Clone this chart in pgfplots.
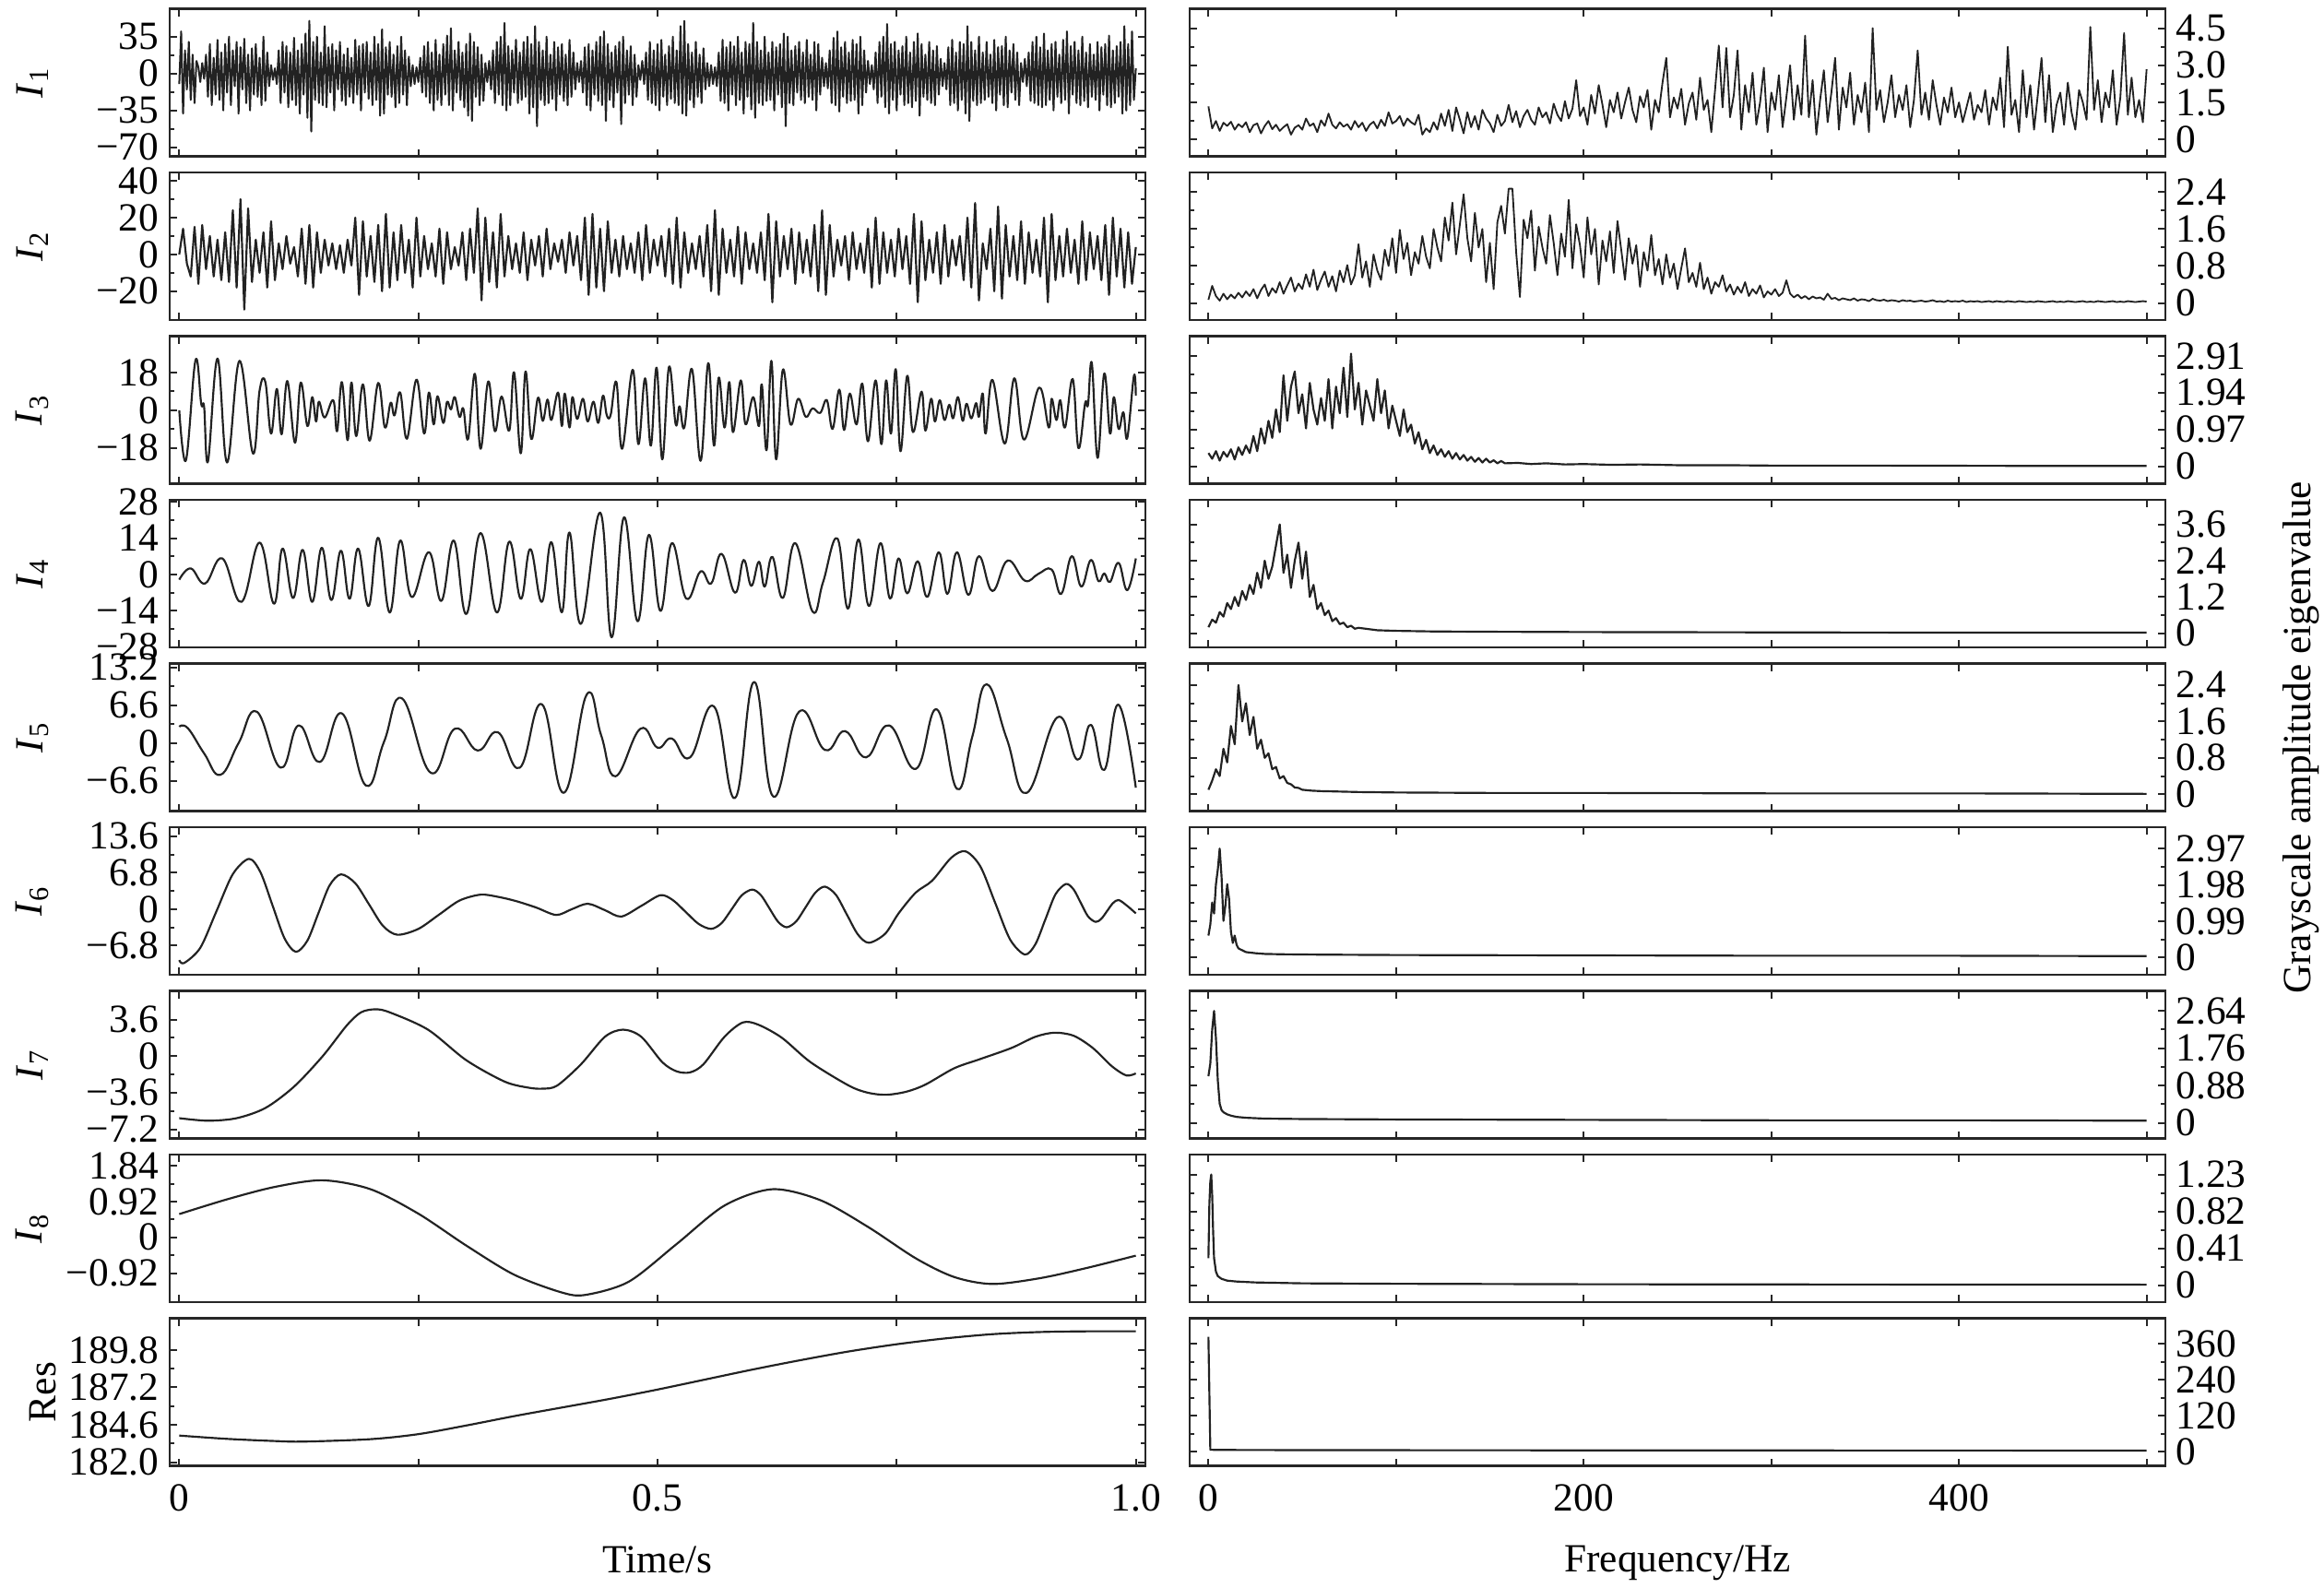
\documentclass[border=0pt]{standalone}
\usepackage{fontspec}
\setmainfont{Liberation Serif}
\usepackage{pgfplots}
\pgfplotsset{compat=1.18}
\definecolor{ln}{HTML}{222222}
\pgfplotsset{
  dl/.style={color=ln, line width=0.65pt, line join=round, mark=none},
  panel/.style={
    scale only axis, width=317.4pt, height=48pt,
    axis line style={line width=0.8pt, color=black!85},
    tick style={line width=0.6pt, color=black!85},
    major tick length=2.4pt, minor tick length=1.4pt,
    minor y tick num=1, tick align=inside,
    tick label style={font=\fontsize{13}{15}\selectfont},
    label style={font=\fontsize{13}{15}\selectfont},
  },
  lp/.style={panel, anchor=south west, xmin=-0.01, xmax=1.01, xtick={0,0.25,0.5,0.75,1}, xticklabels={},
     ylabel style={at={(axis description cs:-0.1408,0.5)}, anchor=center}},
  rp/.style={panel, anchor=south west, xmin=-10, xmax=510, xtick={0,100,200,300,400,500}, xticklabels={}, yticklabel pos=right},
}
\begin{document}
\begin{tikzpicture}
\useasboundingbox (0,0) rectangle (756pt,-516.6pt);
% ---------------- I1
\begin{axis}[lp, at={(55.2pt,-50.88pt)}, ymin=-78.6, ymax=61.4, ytick={-70,-35,0,35}, yticklabels={−70,−35,0,35}, ylabel={\textit{I}\textsubscript{1}}]
\addplot[dl, line width=0.6pt] coordinates {
(0,-10)(0.002,40)(0.004,-38)(0.006,22)(0.008,-15)(0.01,30)(0.012,-25)(0.014,18)(0.016,-28)(0.018,12)
(0.02,6)(0.022,-8)(0.024,10)(0.026,-5)(0.028,18)(0.03,-22)(0.032,28)(0.034,-30)(0.036,15)(0.038,-20)
(0.04,32)(0.042,-25)(0.044,20)(0.046,-35)(0.048,28)(0.05,-18)(0.052,35)(0.054,-30)(0.056,22)(0.058,-12)
(0.06,30)(0.062,-38)(0.064,25)(0.066,-15)(0.068,33)(0.07,-28)(0.072,18)(0.074,-35)(0.076,24)(0.078,-20)
(0.08,28)(0.082,-22)(0.084,15)(0.086,-30)(0.088,35)(0.09,-26)(0.092,20)(0.094,-12)(0.096,8)(0.098,-6)
(0.1,5)(0.102,-10)(0.104,22)(0.106,-28)(0.108,30)(0.11,-18)(0.112,26)(0.114,-32)(0.116,20)(0.118,-25)
(0.12,34)(0.122,-30)(0.124,22)(0.126,-38)(0.128,28)(0.13,-20)(0.132,38)(0.134,-42)(0.136,50)(0.138,-55)
(0.14,30)(0.142,-25)(0.144,35)(0.146,-28)(0.148,20)(0.15,-30)(0.152,45)(0.154,-32)(0.156,25)(0.158,-18)
(0.16,28)(0.162,-35)(0.164,22)(0.166,-15)(0.168,30)(0.17,-26)(0.172,18)(0.174,-30)(0.176,24)(0.178,-22)
(0.18,15)(0.182,-28)(0.184,32)(0.186,-20)(0.188,26)(0.19,-35)(0.192,28)(0.194,-18)(0.196,30)(0.198,-24)
(0.2,20)(0.202,-30)(0.204,35)(0.206,-25)(0.208,28)(0.21,-40)(0.212,42)(0.214,-38)(0.216,25)(0.218,-20)
(0.22,30)(0.222,-22)(0.224,18)(0.226,-32)(0.228,26)(0.23,-28)(0.232,35)(0.234,-20)(0.236,22)(0.238,-30)
(0.24,16)(0.242,-12)(0.244,8)(0.246,-10)(0.248,6)(0.25,-8)(0.252,15)(0.254,-18)(0.256,26)(0.258,-22)
(0.26,30)(0.262,-28)(0.264,20)(0.266,-35)(0.268,32)(0.27,-25)(0.272,18)(0.274,-30)(0.276,28)(0.278,-20)
(0.28,36)(0.282,-30)(0.284,43)(0.286,-35)(0.288,22)(0.29,-18)(0.292,30)(0.294,-25)(0.296,20)(0.298,-32)
(0.3,28)(0.302,-40)(0.304,38)(0.306,-45)(0.308,30)(0.31,-22)(0.312,25)(0.314,-30)(0.316,18)(0.318,-26)
(0.32,10)(0.322,-8)(0.324,12)(0.326,-15)(0.328,22)(0.33,-28)(0.332,30)(0.334,-20)(0.336,35)(0.338,-30)
(0.34,48)(0.342,-35)(0.344,26)(0.346,-30)(0.348,22)(0.35,-18)(0.352,32)(0.354,-28)(0.356,20)(0.358,-25)
(0.36,30)(0.362,-22)(0.364,35)(0.366,-38)(0.368,28)(0.37,-32)(0.372,45)(0.374,-50)(0.376,30)(0.378,-25)
(0.38,22)(0.382,-30)(0.384,35)(0.386,-28)(0.388,18)(0.39,-24)(0.392,30)(0.394,-35)(0.396,25)(0.398,-20)
(0.4,28)(0.402,-26)(0.404,18)(0.406,-30)(0.408,32)(0.41,-22)(0.412,20)(0.414,-15)(0.416,10)(0.418,-8)
(0.42,12)(0.422,-18)(0.424,25)(0.426,-30)(0.428,28)(0.43,-35)(0.432,22)(0.434,-20)(0.436,30)(0.438,-26)
(0.44,35)(0.442,-30)(0.444,40)(0.446,-45)(0.448,28)(0.45,-25)(0.452,20)(0.454,-32)(0.456,26)(0.458,-18)
(0.46,30)(0.462,-48)(0.464,35)(0.466,-28)(0.468,22)(0.47,-20)(0.472,26)(0.474,-30)(0.476,18)(0.478,-22)
(0.48,8)(0.482,-6)(0.484,12)(0.486,-10)(0.488,20)(0.49,-25)(0.492,30)(0.494,-28)(0.496,22)(0.498,-30)
(0.5,28)(0.502,-35)(0.504,32)(0.506,-22)(0.508,18)(0.51,-30)(0.512,26)(0.514,-24)(0.516,35)(0.518,-28)
(0.52,22)(0.522,-30)(0.524,45)(0.526,-38)(0.528,50)(0.53,-40)(0.532,28)(0.534,-25)(0.536,20)(0.538,-32)
(0.54,30)(0.542,-22)(0.544,18)(0.546,-28)(0.548,24)(0.55,-15)(0.552,10)(0.554,-12)(0.556,8)(0.558,-10)
(0.56,6)(0.562,-12)(0.564,20)(0.566,-26)(0.568,32)(0.57,-28)(0.572,25)(0.574,-35)(0.576,30)(0.578,-20)
(0.58,26)(0.582,-30)(0.584,35)(0.586,-25)(0.588,20)(0.59,-38)(0.592,30)(0.594,-22)(0.596,28)(0.598,-34)
(0.6,48)(0.602,-42)(0.604,30)(0.606,-28)(0.608,22)(0.61,-30)(0.612,35)(0.614,-26)(0.616,20)(0.618,-25)
(0.62,30)(0.622,-35)(0.624,25)(0.626,-20)(0.628,28)(0.63,-32)(0.632,38)(0.634,-50)(0.636,35)(0.638,-28)
(0.64,22)(0.642,-30)(0.644,26)(0.646,-18)(0.648,30)(0.65,-25)(0.652,20)(0.654,-28)(0.656,32)(0.658,-22)
(0.66,18)(0.662,-25)(0.664,30)(0.666,-35)(0.668,28)(0.67,-20)(0.672,15)(0.674,-12)(0.676,10)(0.678,-14)
(0.68,22)(0.682,-28)(0.684,34)(0.686,-30)(0.688,40)(0.69,-36)(0.692,25)(0.694,-22)(0.696,30)(0.698,-28)
(0.7,20)(0.702,-26)(0.704,32)(0.706,-25)(0.708,28)(0.71,-38)(0.712,35)(0.714,-30)(0.716,22)(0.718,-18)
(0.72,12)(0.722,-10)(0.724,8)(0.726,-15)(0.728,20)(0.73,-28)(0.732,30)(0.734,-22)(0.736,35)(0.738,-32)
(0.74,47)(0.742,-38)(0.744,28)(0.746,-25)(0.748,30)(0.75,-35)(0.752,22)(0.754,-20)(0.756,26)(0.758,-30)
(0.76,35)(0.762,-28)(0.764,20)(0.766,-32)(0.768,30)(0.77,-26)(0.772,38)(0.774,-40)(0.776,28)(0.778,-22)
(0.78,18)(0.782,-25)(0.784,30)(0.786,-28)(0.788,22)(0.79,-30)(0.792,26)(0.794,-20)(0.796,14)(0.798,-12)
(0.8,10)(0.802,-15)(0.804,25)(0.806,-30)(0.808,32)(0.81,-28)(0.812,20)(0.814,-35)(0.816,30)(0.818,-25)
(0.82,28)(0.822,-38)(0.824,45)(0.826,-45)(0.828,30)(0.83,-26)(0.832,22)(0.834,-30)(0.836,35)(0.838,-28)
(0.84,20)(0.842,-25)(0.844,30)(0.846,-22)(0.848,18)(0.85,-28)(0.852,32)(0.854,-35)(0.856,25)(0.858,-20)
(0.86,26)(0.862,-30)(0.864,35)(0.866,-32)(0.868,22)(0.87,-18)(0.872,28)(0.874,-25)(0.876,20)(0.878,-30)
(0.88,10)(0.882,-8)(0.884,14)(0.886,-12)(0.888,20)(0.89,-26)(0.892,30)(0.894,-28)(0.896,35)(0.898,-30)
(0.9,25)(0.902,-32)(0.904,38)(0.906,-30)(0.908,22)(0.91,-25)(0.912,28)(0.914,-35)(0.916,30)(0.918,-22)
(0.92,18)(0.922,-28)(0.924,32)(0.926,-25)(0.928,40)(0.93,-38)(0.932,26)(0.934,-20)(0.936,30)(0.938,-28)
(0.94,22)(0.942,-30)(0.944,35)(0.946,-26)(0.948,20)(0.95,-32)(0.952,28)(0.954,-22)(0.956,18)(0.958,-25)
(0.96,30)(0.962,-35)(0.964,25)(0.966,-20)(0.968,28)(0.97,-30)(0.972,36)(0.974,-32)(0.976,22)(0.978,-28)
(0.98,26)(0.982,-22)(0.984,30)(0.986,-38)(0.988,45)(0.99,-35)(0.992,28)(0.994,-30)(0.996,40)(0.998,-25)
(1,5)};
\end{axis}
% ---------------- I2
\begin{axis}[lp, at={(55.2pt,-104.13pt)}, ymin=-35.7, ymax=44.5, ytick={-20,0,20,40}, yticklabels={−20,0,20,40}, ylabel={\textit{I}\textsubscript{2}}]
\addplot[dl] coordinates {
(0,0)(0.004,14)(0.008,-5)(0.012,-12)(0.016,15)(0.02,-16)(0.024,16)(0.028,-8)(0.032,10)(0.036,-12)
(0.04,8)(0.044,-14)(0.048,12)(0.052,-15)(0.056,24)(0.06,-18)(0.064,30)(0.068,-30)(0.072,25)(0.076,-15)
(0.08,8)(0.084,-10)(0.088,12)(0.092,-18)(0.096,18)(0.1,-14)(0.104,6)(0.108,-8)(0.112,10)(0.116,-5)
(0.12,4)(0.124,-12)(0.128,14)(0.132,-16)(0.136,16)(0.14,-18)(0.144,12)(0.148,-10)(0.152,8)(0.156,-6)
(0.16,6)(0.164,-8)(0.168,5)(0.172,-10)(0.176,8)(0.18,-6)(0.184,20)(0.188,-22)(0.192,18)(0.196,-12)
(0.2,10)(0.204,-15)(0.208,16)(0.212,-20)(0.216,22)(0.22,-18)(0.224,12)(0.228,-14)(0.232,16)(0.236,-10)
(0.24,8)(0.244,-18)(0.248,20)(0.252,-12)(0.256,10)(0.26,-8)(0.264,6)(0.268,-12)(0.272,14)(0.276,-16)
(0.28,12)(0.284,-8)(0.288,4)(0.292,-6)(0.296,12)(0.3,-14)(0.304,14)(0.308,-10)(0.312,25)(0.316,-25)
(0.32,20)(0.324,-15)(0.328,12)(0.332,-18)(0.336,22)(0.34,-12)(0.344,10)(0.348,-8)(0.352,6)(0.356,-10)
(0.36,12)(0.364,-14)(0.368,8)(0.372,-6)(0.376,10)(0.38,-12)(0.384,14)(0.388,-8)(0.392,6)(0.396,-4)
(0.4,8)(0.404,-10)(0.408,12)(0.412,-6)(0.416,10)(0.42,-14)(0.424,20)(0.428,-22)(0.432,22)(0.436,-18)
(0.44,14)(0.444,-20)(0.448,18)(0.452,-10)(0.456,8)(0.46,-12)(0.464,10)(0.468,-8)(0.472,6)(0.476,-10)
(0.48,12)(0.484,-14)(0.488,16)(0.492,-10)(0.496,8)(0.5,-6)(0.504,10)(0.508,-12)(0.512,14)(0.516,-16)
(0.52,20)(0.524,-18)(0.528,12)(0.532,-10)(0.536,6)(0.54,-8)(0.544,10)(0.548,-12)(0.552,16)(0.556,-20)
(0.56,24)(0.564,-22)(0.568,14)(0.572,-10)(0.576,8)(0.58,-12)(0.584,15)(0.588,-16)(0.592,12)(0.596,-8)
(0.6,6)(0.604,-10)(0.608,12)(0.612,-14)(0.616,22)(0.62,-26)(0.624,18)(0.628,-12)(0.632,10)(0.636,-8)
(0.64,14)(0.644,-16)(0.648,12)(0.652,-10)(0.656,8)(0.66,-12)(0.664,16)(0.668,-20)(0.672,24)(0.676,-22)
(0.68,16)(0.684,-12)(0.688,8)(0.692,-6)(0.696,10)(0.7,-14)(0.704,12)(0.708,-8)(0.712,6)(0.716,-10)
(0.72,14)(0.724,-18)(0.728,20)(0.732,-16)(0.736,12)(0.74,-10)(0.744,8)(0.748,-12)(0.752,14)(0.756,-8)
(0.76,10)(0.764,-16)(0.768,22)(0.772,-26)(0.776,18)(0.78,-14)(0.784,8)(0.788,-10)(0.792,12)(0.796,-16)
(0.8,16)(0.804,-12)(0.808,8)(0.812,-6)(0.816,10)(0.82,-14)(0.824,20)(0.828,-18)(0.832,28)(0.836,-25)
(0.84,6)(0.844,-8)(0.848,14)(0.852,-20)(0.856,26)(0.86,-24)(0.864,16)(0.868,-12)(0.872,10)(0.876,-14)
(0.88,18)(0.884,-16)(0.888,12)(0.892,-10)(0.896,8)(0.9,-12)(0.904,20)(0.908,-26)(0.912,22)(0.916,-14)
(0.92,10)(0.924,-12)(0.928,14)(0.932,-10)(0.936,8)(0.94,-16)(0.944,18)(0.948,-14)(0.952,12)(0.956,-8)
(0.96,10)(0.964,-14)(0.968,16)(0.972,-22)(0.976,20)(0.98,-12)(0.984,14)(0.988,-18)(0.992,12)(0.996,-16)
(1,4)};
\end{axis}
% ---------------- I3
\begin{axis}[lp, at={(55.2pt,-157.38pt)}, ymin=-35.3, ymax=35.5, ytick={-18,0,18}, yticklabels={−18,0,18}, ylabel={\textit{I}\textsubscript{3}}]
\addplot[dl, smooth, tension=0.65] coordinates {
(0,0)(0.007,-24.0)(0.017,24.0)(0.023,3.0)(0.026,1.6)(0.030,-24.6)(0.040,24.8)(0.050,-25.1)(0.063,23.7)(0.077,-20.7)
(0.084,9.5)(0.090,13.5)(0.096,-11.2)(0.102,10.2)(0.107,-11.5)(0.113,14.0)(0.121,-15.6)(0.127,13.3)(0.134,-7.6)(0.139,6.3)
(0.143,-5.4)(0.146,4.1)(0.152,-3.5)(0.161,4.8)(0.165,-10.1)(0.170,13.5)(0.176,-14.4)(0.180,13.3)(0.185,-12.4)(0.192,12.4)
(0.199,-14.6)(0.208,13.1)(0.215,-8.3)(0.221,3.6)(0.225,-2.5)(0.231,8.5)(0.238,-13.7)(0.248,14.7)(0.256,-11.2)(0.261,8.5)
(0.266,-6.8)(0.270,6.7)(0.276,-6.1)(0.280,4.1)(0.284,0.4)(0.288,6.3)(0.293,-3.2)(0.297,0.7)(0.302,-13.8)(0.309,17.5)
(0.315,-18.5)(0.323,13.8)(0.330,-10.1)(0.337,6.6)(0.345,-9.8)(0.350,18.2)(0.357,-20.7)(0.362,18.6)(0.368,-13.8)(0.375,6.0)
(0.380,-5.1)(0.385,5.1)(0.389,-4.7)(0.396,8.5)(0.400,-7.6)(0.403,8.0)(0.408,-8.3)(0.411,6.3)(0.416,-4.2)(0.422,5.5)
(0.427,-5.4)(0.433,4.1)(0.438,-6.1)(0.443,7.0)(0.447,-2.5)(0.451,-2.2)(0.457,13.5)(0.463,-18.5)(0.474,19.4)(0.480,-16.3)
(0.487,15.3)(0.493,-17.0)(0.499,20.4)(0.505,-23.6)(0.512,20.8)(0.519,-6.8)(0.523,1.9)(0.528,-8.3)(0.536,19.7)(0.545,-24.3)
(0.553,22.6)(0.559,-17.0)(0.564,15.7)(0.570,-8.3)(0.575,13.5)(0.579,-10.5)(0.587,14.3)(0.592,-6.8)(0.600,6.3)(0.606,-7.6)
(0.609,12.4)(0.614,-19.2)(0.619,23.7)(0.624,-23.6)(0.631,19.4)(0.639,-6.8)(0.647,5.5)(0.655,-3.2)(0.662,0.9)(0.670,-1.3)
(0.677,4.8)(0.683,-9.0)(0.690,9.9)(0.695,-9.5)(0.701,8.0)(0.708,-6.8)(0.714,12.8)(0.720,-14.9)(0.728,14.3)(0.734,-16.3)
(0.739,14.3)(0.744,-11.2)(0.749,19.7)(0.754,-19.7)(0.761,16.5)(0.767,-10.5)(0.776,8.9)(0.780,-9.8)(0.786,5.5)(0.790,-5.4)
(0.795,4.8)(0.800,-4.7)(0.805,2.6)(0.809,-3.9)(0.814,6.3)(0.819,-5.1)(0.823,3.1)(0.828,-3.9)(0.833,3.4)(0.836,-3.2)
(0.840,8.0)(0.843,-11.2)(0.850,14.6)(0.863,-16.0)(0.873,15.3)(0.883,-14.1)(0.899,10.9)(0.909,-8.3)(0.912,5.5)(0.917,-4.7)
(0.921,4.8)(0.926,-8.3)(0.934,15.0)(0.940,-18.2)(0.947,3.4)(0.950,2.6)(0.954,22.6)(0.960,-22.9)(0.967,17.6)(0.973,-11.2)
(0.977,6.3)(0.982,-9.0)(0.987,-1.0)(0.991,-13.4)(0.998,16.5)(1.0,7.0)};
\end{axis}
% ---------------- I4
\begin{axis}[lp, at={(55.2pt,-210.63pt)}, ymin=-28.2, ymax=28.8, ytick={-28,-14,0,14,28}, yticklabels={−28,−14,0,14,28}, ylabel={\textit{I}\textsubscript{4}}]
\addplot[dl, smooth, tension=0.7] coordinates {
(0,-2.0)(0.012,2.35)(0.027,-3.5)(0.045,6.2)(0.065,-10.6)(0.084,12.3)(0.099,-11.3)(0.108,10.0)(0.119,-9.1)(0.129,9.5)
(0.139,-10.6)(0.149,10.3)(0.159,-9.9)(0.169,9.2)(0.178,-9.4)(0.187,10.0)(0.198,-12.2)(0.208,14.2)(0.220,-14.7)(0.231,13.1)
(0.243,-8.7)(0.261,8.6)(0.274,-10.2)(0.287,13.1)(0.300,-15.3)(0.315,16.0)(0.332,-14.7)(0.345,12.7)(0.357,-9.4)(0.367,9.8)
(0.379,-10.6)(0.389,12.5)(0.400,-14.6)(0.408,16.2)(0.420,-19.1)(0.440,23.9)(0.452,-24.3)(0.465,22.1)(0.479,-18.1)(0.491,15.3)
(0.503,-14.1)(0.515,12.1)(0.530,-9.3)(0.545,1.2)(0.556,-3.5)(0.567,8.0)(0.581,-7.1)(0.590,5.6)(0.598,-4.4)(0.606,4.9)
(0.612,-4.7)(0.620,6.8)(0.631,-9.1)(0.644,12.1)(0.662,-14.3)(0.673,-3.0)(0.688,13.9)(0.699,-13.2)(0.710,13.5)(0.721,-12.2)
(0.733,12.1)(0.743,-9.3)(0.752,6.2)(0.761,-7.3)(0.772,5.1)(0.782,-8.7)(0.794,8.6)(0.803,-7.5)(0.813,8.6)(0.825,-7.9)
(0.836,7.1)(0.850,-6.4)(0.866,5.4)(0.884,-2.4)(0.898,0.2)(0.912,1.9)(0.922,-7.5)(0.933,7.1)(0.943,-4.7)(0.953,5.6)
(0.961,-2.6)(0.967,0.4)(0.973,-2.9)(0.982,4.5)(0.991,-6.1)(1.0,6.2)};
\end{axis}
% ---------------- I5
\begin{axis}[lp, at={(55.2pt,-263.88pt)}, ymin=-11.9, ymax=13.9, ytick={-6.6,0,6.6,13.2}, yticklabels={−6.6,0,6.6,13.2}, ylabel={\textit{I}\textsubscript{5}}]
\addplot[dl, smooth, tension=0.75] coordinates {
(0,2.86)(0.009,2.6)(0.026,-1.8)(0.043,-5.55)(0.062,0.0)(0.081,5.5)(0.106,-4.3)(0.125,3.1)(0.147,-3.3)(0.170,5.2)(0.195,-7.4)(0.214,0.2)(0.233,7.8)
(0.263,-5.2)(0.288,2.5)(0.312,-1.3)(0.333,1.9)(0.356,-4.3)(0.379,6.8)(0.402,-8.7)(0.426,8.5)(0.441,1.4)(0.456,-5.8)(0.482,2.5)
(0.500,-0.8)(0.515,0.8)(0.534,-2.5)(0.559,6.4)(0.581,-9.6)(0.601,10.7)(0.621,-9.35)(0.648,5.5)(0.675,-1.2)(0.696,2.1)
(0.718,-2.5)(0.742,3.1)(0.770,-4.5)(0.792,5.9)(0.813,-8.0)(0.829,1.1)(0.844,10.3)(0.865,0.8)(0.886,-8.7)(0.918,4.5)(0.939,-2.9)(0.953,3.2)
(0.967,-4.7)(0.982,6.7)(1.0,-7.8)};
\end{axis}
% ---------------- I6
\begin{axis}[lp, at={(55.2pt,-317.13pt)}, ymin=-12.3, ymax=15.3, ytick={-6.8,0,6.8,13.6}, yticklabels={−6.8,0,6.8,13.6}, ylabel={\textit{I}\textsubscript{6}}]
\addplot[dl, smooth] coordinates {
(0,-9.55)(0.005,-10.1)(0.022,-7.24)(0.039,-0.35)(0.056,6.54)(0.073,9.4)(0.085,6.85)(0.0975,0.7)(0.11,-5.45)(0.122,-8.0)
(0.134,-5.88)(0.1455,-0.75)(0.157,4.38)(0.169,6.5)(0.184,4.84)(0.1985,0.85)(0.213,-3.14)(0.228,-4.8)(0.25,-3.7)(0.2715,-1.05)
(0.293,1.6)(0.315,2.7)(0.333,2.3)(0.352,1.5)(0.373,0.3)(0.394,-1.1)(0.41,-0.05)(0.427,1.0)(0.445,-0.2)(0.462,-1.4)
(0.483,0.6)(0.503,2.6)(0.516,1.68)(0.5295,-0.55)(0.543,-2.78)(0.556,-3.7)(0.567,-2.62)(0.5775,-0.03)(0.588,2.57)(0.599,3.65)
(0.608,2.62)(0.617,0.13)(0.626,-2.37)(0.635,-3.4)(0.645,-2.29)(0.655,0.4)(0.665,3.09)(0.675,4.2)(0.6865,2.66)(0.698,-1.05)
(0.7095,-4.76)(0.721,-6.3)(0.738,-4.6)(0.752,-0.8)(0.770,3.1)(0.787,5.3)(0.807,9.6)(0.822,10.8)(0.8375,7.97)(0.853,1.15)
(0.8685,-5.67)(0.884,-8.5)(0.895,-6.57)(0.9055,-1.9)(0.916,2.77)(0.927,4.7)(0.935,3.66)(0.9425,1.15)(0.950,-1.36)(0.958,-2.4)
(0.964,-1.8)(0.970,-0.35)(0.976,1.1)(0.982,1.7)(0.991,0.6)(1.0,-0.8)};
\end{axis}
% ---------------- I7
\begin{axis}[lp, at={(55.2pt,-370.38pt)}, ymin=-8.1, ymax=6.4, ytick={-7.2,-3.6,0,3.6}, yticklabels={−7.2,−3.6,0,3.6}, ylabel={\textit{I}\textsubscript{7}}]
\addplot[dl, smooth] coordinates {
(0,-6.1)(0.03,-6.35)(0.06,-6.1)(0.09,-5.1)(0.12,-3.0)(0.15,0.0)(0.175,3.0)(0.19,4.3)(0.205,4.6)(0.22,4.3)
(0.26,2.6)(0.30,-0.4)(0.34,-2.5)(0.365,-3.1)(0.38,-3.2)(0.395,-2.9)(0.42,-0.8)(0.445,1.9)(0.464,2.6)(0.483,1.9)
(0.505,-0.6)(0.52,-1.5)(0.534,-1.6)(0.548,-0.8)(0.57,1.9)(0.589,3.3)(0.605,3.1)(0.63,1.8)(0.66,-0.6)(0.70,-2.9)
(0.72,-3.6)(0.739,-3.8)(0.76,-3.5)(0.78,-2.8)(0.81,-1.2)(0.837,-0.3)(0.87,0.8)(0.895,1.9)(0.915,2.3)(0.935,2.0)
(0.955,0.8)(0.975,-1.0)(0.99,-1.9)(1.0,-1.7)};
\end{axis}
% ---------------- I8
\begin{axis}[lp, at={(55.2pt,-423.63pt)}, ymin=-1.67, ymax=2.13, ytick={-0.92,0,0.92,1.84}, yticklabels={−0.92,0,0.92,1.84}, ylabel={\textit{I}\textsubscript{8}}]
\addplot[dl, smooth] coordinates {
(0,0.60)(0.05,0.98)(0.10,1.30)(0.15,1.47)(0.20,1.24)(0.25,0.61)(0.30,-0.21)(0.35,-0.96)(0.40,-1.42)(0.425,-1.48)
(0.47,-1.14)(0.52,-0.17)(0.57,0.82)(0.62,1.24)(0.67,0.96)(0.72,0.27)(0.77,-0.54)(0.81,-1.02)(0.85,-1.2)(0.9,-1.05)(0.95,-0.78)(1.0,-0.47)};
\end{axis}
% ---------------- Res
\begin{axis}[lp, at={(55.2pt,-476.88pt)}, ymin=181.74, ymax=192.0, ytick={182.0,184.6,187.2,189.8}, yticklabels={182.0,184.6,187.2,189.8}, ylabel={Res},
  ylabel style={at={(axis description cs:-0.1295,0.5)}},
  xticklabels={0,,0.5,,1.0}, xticklabel style={yshift=-2.5pt},
  xlabel={Time/s}, xlabel style={at={(axis description cs:0.5,0)},anchor=north,yshift=-22.5pt}]
\addplot[dl, smooth] coordinates {
(0,183.85)(0.05,183.62)(0.1,183.47)(0.13,183.43)(0.2,183.6)(0.25,183.95)(0.3,184.55)(0.35,185.2)(0.4,185.8)(0.45,186.4)
(0.5,187.05)(0.55,187.75)(0.6,188.45)(0.65,189.1)(0.7,189.7)(0.75,190.2)(0.8,190.6)(0.85,190.9)(0.9,191.05)(0.95,191.1)(1.0,191.1)};
\end{axis}
% ================= right column
\begin{axis}[rp, at={(387pt,-50.88pt)}, ymin=-0.68, ymax=5.28, ytick={0,1.5,3.0,4.5}, yticklabels={0,1.5,3.0,4.5}]
\addplot[dl, line width=0.55pt] coordinates {
(0,1.34)(2,0.45)(4,0.75)(6,0.35)(8,0.68)(10,0.55)(12,0.72)(14,0.40)(16,0.62)(18,0.50)
(20,0.70)(22,0.30)(24,0.58)(26,0.65)(28,0.25)(30,0.55)(32,0.75)(34,0.42)(36,0.60)(38,0.35)
(40,0.50)(42,0.62)(44,0.20)(46,0.48)(48,0.58)(50,0.40)(52,0.85)(54,0.55)(56,0.65)(58,0.30)
(60,0.78)(62,0.55)(64,1.05)(66,0.60)(68,0.45)(70,0.70)(72,0.52)(74,0.62)(76,0.40)(78,0.75)
(80,0.50)(82,0.68)(84,0.35)(86,0.60)(88,0.72)(90,0.45)(92,0.80)(94,0.55)(96,1.10)(98,0.65)
(100,0.75)(102,0.95)(104,0.55)(106,0.85)(108,0.70)(110,0.60)(112,1.00)(114,0.20)(116,0.45)(118,0.30)
(120,0.70)(122,0.40)(124,1.05)(126,0.55)(128,1.20)(130,0.35)(132,1.30)(134,0.80)(136,0.25)(138,1.10)
(140,0.50)(142,0.95)(144,0.40)(146,1.20)(148,0.85)(150,0.65)(152,0.30)(154,1.00)(156,0.55)(158,0.75)
(160,1.40)(162,0.70)(164,1.15)(166,0.50)(168,0.95)(170,1.20)(172,0.80)(174,0.60)(176,1.30)(178,0.90)
(180,1.10)(182,0.65)(184,1.45)(186,1.00)(188,0.75)(190,1.55)(192,0.85)(194,1.25)(196,2.40)(198,0.95)
(200,1.30)(202,0.60)(204,1.80)(206,1.05)(208,2.20)(210,1.40)(212,0.50)(214,1.60)(216,1.10)(218,1.90)
(220,0.85)(222,1.50)(224,2.10)(226,1.20)(228,0.70)(230,1.75)(232,1.30)(234,2.00)(236,0.40)(238,1.60)
(240,1.10)(242,2.30)(244,3.30)(246,0.90)(248,1.70)(250,1.25)(252,2.05)(254,0.60)(256,1.45)(258,1.90)
(260,0.80)(262,2.50)(264,1.20)(266,1.60)(268,0.30)(270,2.00)(272,3.80)(274,1.30)(276,3.70)(278,0.90)
(280,1.80)(282,3.60)(284,0.40)(286,2.20)(288,1.10)(290,2.70)(292,0.60)(294,1.50)(296,2.90)(298,0.30)
(300,1.90)(302,1.20)(304,2.60)(306,0.50)(308,1.70)(310,3.00)(312,0.80)(314,2.20)(316,1.00)(318,4.20)
(320,0.90)(322,2.40)(324,0.20)(326,1.60)(328,2.80)(330,0.70)(332,1.90)(334,3.30)(336,0.40)(338,2.10)
(340,1.30)(342,2.70)(344,0.60)(346,1.80)(348,1.10)(350,2.30)(352,0.30)(354,4.50)(356,1.20)(358,2.00)
(360,0.70)(362,1.50)(364,2.60)(366,0.90)(368,1.80)(370,1.20)(372,2.20)(374,0.50)(376,1.60)(378,3.60)
(380,1.00)(382,1.90)(384,0.80)(386,2.40)(388,1.40)(390,0.60)(392,1.70)(394,1.10)(396,2.10)(398,0.90)
(400,1.50)(402,0.70)(404,1.30)(406,1.90)(408,0.80)(410,1.40)(412,1.10)(414,2.00)(416,0.60)(418,1.70)
(420,1.20)(422,2.50)(424,0.50)(426,3.75)(428,1.00)(430,1.60)(432,0.30)(434,2.80)(436,0.90)(438,2.20)
(440,0.40)(442,1.80)(444,3.30)(446,0.70)(448,2.60)(450,0.30)(452,1.40)(454,1.90)(456,0.60)(458,2.30)
(460,1.10)(462,0.40)(464,2.00)(466,1.50)(468,0.80)(470,4.55)(472,1.20)(474,2.40)(476,0.70)(478,1.90)
(480,1.30)(482,2.80)(484,0.60)(486,1.70)(488,4.30)(490,1.00)(492,2.50)(494,0.90)(496,1.60)(498,0.70)
(500,2.84)};
\end{axis}
\begin{axis}[rp, at={(387pt,-104.13pt)}, ymin=-0.37, ymax=2.82, ytick={0,0.8,1.6,2.4}, yticklabels={0,0.8,1.6,2.4}]
\addplot[dl, line width=0.55pt] coordinates {
(0,0.07)(2,0.37)(4,0.15)(6,0.05)(8,0.20)(10,0.08)(12,0.18)(14,0.10)(16,0.22)(18,0.12)
(20,0.25)(22,0.15)(24,0.30)(26,0.10)(28,0.28)(30,0.40)(32,0.15)(34,0.32)(36,0.22)(38,0.45)
(40,0.20)(42,0.38)(44,0.55)(46,0.25)(48,0.42)(50,0.30)(52,0.62)(54,0.35)(56,0.72)(58,0.28)
(60,0.50)(62,0.68)(64,0.35)(66,0.58)(68,0.25)(70,0.70)(72,0.45)(74,0.82)(76,0.40)(78,0.60)
(80,1.27)(82,0.55)(84,0.90)(86,0.35)(88,1.05)(90,0.70)(92,0.50)(94,1.15)(96,0.80)(98,1.40)
(100,0.65)(102,1.58)(104,0.95)(106,1.30)(108,0.60)(110,1.10)(112,0.85)(114,1.45)(116,1.00)(118,0.75)
(120,1.60)(122,1.20)(124,0.90)(126,1.85)(128,1.35)(130,2.17)(132,1.05)(134,1.70)(136,2.35)(138,1.40)
(140,0.90)(142,1.95)(144,1.20)(146,1.60)(148,0.45)(150,1.30)(152,0.30)(154,1.75)(156,2.10)(158,1.50)
(160,2.47)(162,2.47)(164,1.10)(166,0.13)(168,1.80)(170,1.40)(172,2.00)(174,0.70)(176,1.65)(178,1.20)
(180,0.85)(182,1.90)(184,1.30)(186,0.60)(188,1.50)(190,1.00)(192,2.23)(194,0.75)(196,1.70)(198,1.25)
(200,0.55)(202,1.85)(204,1.05)(206,1.60)(208,0.40)(210,1.35)(212,0.90)(214,1.55)(216,0.65)(218,1.77)
(220,1.15)(222,0.50)(224,1.40)(226,0.85)(228,1.25)(230,0.35)(232,1.10)(234,0.70)(236,1.47)(238,0.60)
(240,0.95)(242,0.40)(244,1.05)(246,0.55)(248,0.85)(250,0.30)(252,0.75)(254,1.18)(256,0.45)(258,0.65)
(260,0.35)(262,0.87)(264,0.30)(266,0.55)(268,0.20)(270,0.45)(272,0.35)(274,0.60)(276,0.25)(278,0.40)
(280,0.18)(282,0.35)(284,0.22)(286,0.45)(288,0.15)(290,0.30)(292,0.20)(294,0.38)(296,0.12)(298,0.25)
(300,0.18)(302,0.30)(304,0.15)(306,0.22)(308,0.49)(310,0.20)(312,0.12)(314,0.18)(316,0.10)(318,0.15)
(320,0.08)(322,0.14)(324,0.10)(326,0.12)(328,0.07)(330,0.20)(332,0.09)(334,0.11)(336,0.06)(338,0.10)
(340,0.08)(342,0.06)(344,0.10)(346,0.05)(348,0.08)(350,0.07)(352,0.04)(354,0.09)(356,0.06)(358,0.05)
(360,0.07)(362,0.04)(364,0.06)(366,0.05)(368,0.03)(370,0.06)(372,0.04)(374,0.05)(376,0.03)(378,0.04)
(380,0.05)(382,0.03)(384,0.04)(386,0.06)(388,0.03)(390,0.04)(392,0.02)(394,0.05)(396,0.03)(398,0.04)
(400,0.03)(402,0.05)(404,0.02)(406,0.04)(408,0.03)(410,0.04)(412,0.02)(414,0.03)(416,0.04)(418,0.02)
(420,0.04)(422,0.03)(424,0.02)(426,0.04)(428,0.03)(430,0.02)(432,0.04)(434,0.03)(436,0.02)(438,0.03)
(440,0.02)(442,0.04)(444,0.03)(446,0.02)(448,0.03)(450,0.04)(452,0.02)(454,0.03)(456,0.02)(458,0.04)
(460,0.03)(462,0.02)(464,0.03)(466,0.04)(468,0.02)(470,0.03)(472,0.02)(474,0.04)(476,0.03)(478,0.02)
(480,0.03)(482,0.04)(484,0.02)(486,0.03)(488,0.02)(490,0.04)(492,0.03)(494,0.02)(496,0.03)(498,0.04)
(500,0.03)};
\end{axis}
\begin{axis}[rp, at={(387pt,-157.38pt)}, ymin=-0.46, ymax=3.43, ytick={0,0.97,1.94,2.91}, yticklabels={0,0.97,1.94,2.91}]
\addplot[dl] coordinates {
(0,0.35)(2,0.20)(4,0.40)(6,0.15)(8,0.38)(10,0.25)(12,0.45)(14,0.18)(16,0.50)(18,0.30)
(20,0.55)(22,0.35)(24,0.80)(26,0.40)(28,1.00)(30,0.60)(32,1.20)(34,0.75)(36,1.50)(38,0.90)
(40,2.40)(42,1.20)(44,2.10)(46,2.50)(48,1.40)(50,1.90)(52,1.00)(54,2.20)(56,1.50)(58,1.10)
(60,1.80)(62,1.20)(64,2.30)(66,1.00)(68,2.10)(70,1.40)(72,2.60)(74,1.30)(76,2.97)(78,1.50)
(80,2.20)(82,1.10)(84,2.00)(86,1.60)(88,1.20)(90,2.30)(92,1.40)(94,2.00)(96,1.00)(98,1.60)
(100,1.20)(102,0.80)(104,1.50)(106,0.90)(108,1.10)(110,0.60)(112,0.90)(114,0.45)(116,0.70)(118,0.35)
(120,0.55)(122,0.30)(124,0.45)(126,0.25)(128,0.40)(130,0.20)(132,0.35)(134,0.18)(136,0.30)(138,0.15)
(140,0.25)(142,0.12)(144,0.22)(146,0.10)(148,0.20)(150,0.10)(152,0.16)(154,0.08)(156,0.14)(158,0.08)
(165,0.09)(172,0.06)(180,0.08)(190,0.05)(200,0.06)(215,0.04)(230,0.05)(250,0.03)(275,0.03)(300,0.02)
(350,0.02)(400,0.015)(450,0.01)(500,0.01)};
\end{axis}
\begin{axis}[rp, at={(387pt,-210.63pt)}, ymin=-0.47, ymax=4.41, ytick={0,1.2,2.4,3.6}, yticklabels={0,1.2,2.4,3.6}]
\addplot[dl] coordinates {
(0,0.20)(2,0.45)(4,0.35)(6,0.70)(8,0.55)(10,1.00)(12,0.80)(14,1.20)(16,0.90)(18,1.40)
(20,1.10)(22,1.60)(24,1.30)(26,2.00)(28,1.50)(30,2.40)(32,1.80)(34,2.20)(36,2.90)(38,3.60)
(40,2.00)(42,2.60)(44,1.50)(46,2.40)(48,3.00)(50,1.80)(52,2.70)(54,1.20)(56,1.60)(58,0.80)
(60,1.00)(62,0.60)(64,0.75)(66,0.40)(68,0.50)(70,0.30)(72,0.35)(74,0.20)(76,0.25)(78,0.15)
(80,0.18)(90,0.10)(100,0.08)(120,0.06)(150,0.05)(200,0.04)(300,0.03)(400,0.02)(500,0.02)};
\end{axis}
\begin{axis}[rp, at={(387pt,-263.88pt)}, ymin=-0.37, ymax=2.87, ytick={0,0.8,1.6,2.4}, yticklabels={0,0.8,1.6,2.4}]
\addplot[dl] coordinates {
(0,0.10)(2,0.30)(4,0.55)(6,0.40)(8,1.00)(10,0.70)(12,1.50)(14,1.10)(16,2.40)(18,1.60)
(20,2.00)(22,1.30)(24,1.70)(26,1.00)(28,1.20)(30,0.80)(32,0.90)(34,0.55)(36,0.60)(38,0.35)
(40,0.40)(42,0.25)(44,0.22)(46,0.15)(48,0.14)(50,0.10)(55,0.08)(60,0.07)(70,0.06)(80,0.05)
(100,0.04)(150,0.03)(200,0.03)(300,0.02)(400,0.02)(500,0.01)};
\end{axis}
\begin{axis}[rp, at={(387pt,-317.13pt)}, ymin=-0.47, ymax=3.55, ytick={0,0.99,1.98,2.97}, yticklabels={0,0.99,1.98,2.97}]
\addplot[dl] coordinates {
(0,0.60)(1,0.90)(2,1.50)(3,1.20)(4,2.00)(5,2.40)(6,2.97)(7,2.20)(8,1.00)(9,1.40)
(10,2.00)(11,1.60)(12,0.70)(13,0.40)(14,0.60)(15,0.35)(16,0.25)(18,0.20)(20,0.15)(25,0.12)
(30,0.10)(40,0.09)(60,0.08)(100,0.07)(200,0.06)(300,0.05)(400,0.05)(500,0.04)};
\end{axis}
\begin{axis}[rp, at={(387pt,-370.38pt)}, ymin=-0.37, ymax=3.11, ytick={0,0.88,1.76,2.64}, yticklabels={0,0.88,1.76,2.64}]
\addplot[dl] coordinates {
(0,1.10)(1,1.40)(2,2.20)(3,2.64)(4,2.00)(5,1.00)(6,0.45)(7,0.30)(8,0.25)(10,0.20)
(12,0.17)(15,0.14)(20,0.12)(30,0.10)(50,0.09)(100,0.08)(200,0.07)(300,0.06)(400,0.06)(500,0.05)};
\end{axis}
\begin{axis}[rp, at={(387pt,-423.63pt)}, ymin=-0.19, ymax=1.45, ytick={0,0.41,0.82,1.23}, yticklabels={0,0.41,0.82,1.23}]
\addplot[dl] coordinates {
(0,0.30)(0.5,0.90)(1,1.15)(1.5,1.23)(2,1.00)(2.5,0.60)(3,0.30)(4,0.15)(5,0.10)(7,0.07)
(10,0.05)(15,0.04)(25,0.03)(50,0.02)(100,0.015)(200,0.01)(300,0.008)(400,0.006)(500,0.005)};
\end{axis}
\begin{axis}[rp, at={(387pt,-476.88pt)}, ymin=-48, ymax=445, ytick={0,120,240,360}, yticklabels={0,120,240,360},
  xticklabels={0,,200,,400,}, xticklabel style={yshift=-2.5pt},
  xlabel={Frequency/Hz}, xlabel style={at={(axis description cs:0.5,0)},anchor=north,yshift=-22.5pt}]
\addplot[dl] coordinates {
(0,383)(1,6)(2,5.8)(5,5.5)(10,5.3)(50,4.8)(100,4.5)(200,4.1)(300,3.8)(400,3.5)(500,3.3)};
\end{axis}
\node[rotate=90, font=\fontsize{13}{15}\selectfont] at (748.5pt,-240pt) {Grayscale amplitude eigenvalue};
\end{tikzpicture}
\end{document}
